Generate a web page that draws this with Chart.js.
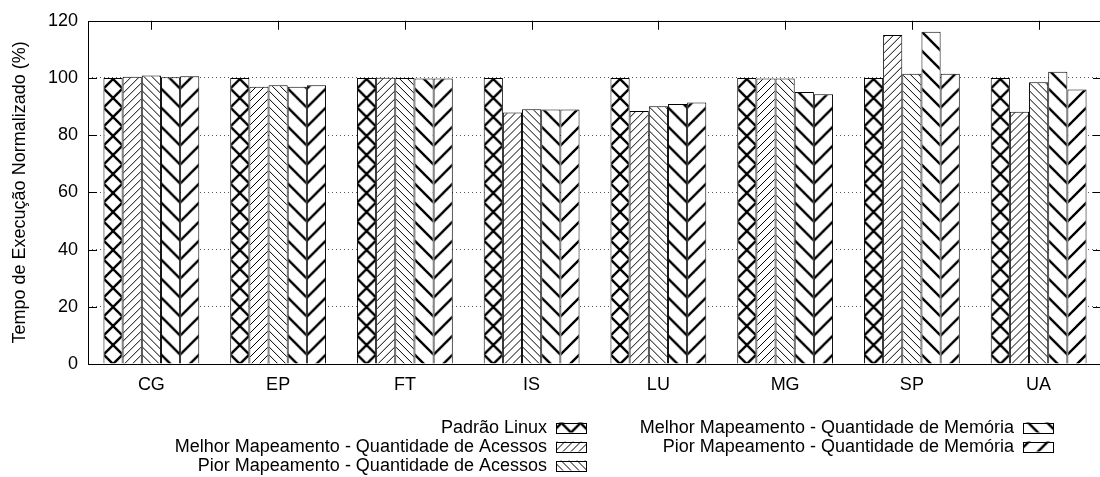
<!DOCTYPE html>
<html>
<head>
<meta charset="utf-8">
<script src="https://cdn.jsdelivr.net/npm/chart.js@4.4.1/dist/chart.umd.min.js"></script>
<style>
    html, body { margin: 0; padding: 0; background: #fff; overflow: hidden; }
    #wrap { position: relative; width: 1104px; height: 477px; }
</style>
</head>
<body>
<div id="wrap"><canvas id="chart"></canvas></div>
<script>
const categories = ["CG", "EP", "FT", "IS", "LU", "MG", "SP", "UA"];

const padraoLinux   = [100.0, 100.0, 100.0, 100.0, 100.0, 100.0, 100.0, 100.0];
const melhorAcessos = [100.4,  96.9, 100.1,  87.9,  88.5,  99.8, 115.0,  88.2];
const piorAcessos   = [100.9,  97.5, 100.0,  89.1,  90.1,  99.8, 101.5,  98.5];
const melhorMemoria = [100.3,  96.9,  99.8,  89.0,  90.9,  95.1, 116.2, 102.2];
const piorMemoria   = [100.6,  97.5,  99.8,  89.0,  91.4,  94.3, 101.5,  96.0];

const seriesNames = [
    "Padrão Linux",
    "Melhor Mapeamento - Quantidade de Acessos",
    "Pior Mapeamento - Quantidade de Acessos",
    "Melhor Mapeamento - Quantidade de Memória",
    "Pior Mapeamento - Quantidade de Memória"
];
const series = [padraoLinux, melhorAcessos, piorAcessos, melhorMemoria, piorMemoria];

const yTicks = [0, 20, 40, 60, 80, 100, 120];
const yTitle = "Tempo de Execução Normalizado (%)";

const FONT = '"Liberation Sans", Arial, Helvetica, sans-serif';
const CAT_PCT = 0.756;

// hatch tile, white background, lines at 45 degrees
function makeTile(size, width, dirs) {
    const c = document.createElement("canvas");
    c.width = size;
    c.height = size;
    const g = c.getContext("2d");
    g.fillStyle = "#fff";
    g.fillRect(0, 0, size, size);
    g.strokeStyle = "#000";
    g.lineWidth = width;
    g.beginPath();
    for (let k = -1; k <= 1; k++) {
        if (dirs.includes("down")) {
            g.moveTo(k * size - 3, -3);
            g.lineTo(k * size + size + 3, size + 3);
        }
        if (dirs.includes("up")) {
            g.moveTo(k * size - 3, size + 3);
            g.lineTo(k * size + size + 3, -3);
        }
    }
    g.stroke();
    return c;
}

const tiles = [
    makeTile(19, 2.4, ["down", "up"]),
    makeTile(8, 1, ["up"]),
    makeTile(8, 1, ["down"]),
    makeTile(19, 2.4, ["down"]),
    makeTile(19, 2.4, ["up"])
];

function patternAt(ctx, tile, x, y) {
    const p = ctx.createPattern(tile, "repeat");
    p.setTransform(new DOMMatrix([1, 0, 0, 1, x, y]));
    return p;
}

// pattern anchored on each bar, like gnuplot does
function barFill(context) {
    const chart = context.chart;
    const xs = chart.scales.x;
    const ys = chart.scales.y;
    if (context.type !== "data" || !xs || !ys || !xs.width) return "#fff";
    const catW = xs.width / categories.length;
    const groupW = catW * CAT_PCT;
    const barW = groupW / series.length;
    const cx = xs.getPixelForValue(context.dataIndex) - groupW / 2 + barW * (context.datasetIndex + 0.5);
    return patternAt(chart.ctx, tiles[context.datasetIndex], cx, ys.getPixelForValue(0));
}

const framePlugin = {
    id: "frame",
    afterDatasetsDraw(chart) {
        const { ctx, chartArea: a, scales: { x, y } } = chart;
        ctx.save();
        ctx.strokeStyle = "#000";
        ctx.lineWidth = 1;
        ctx.beginPath();
        yTicks.slice(1, -1).forEach(v => {
            const py = Math.round(y.getPixelForValue(v)) + 0.5;
            ctx.moveTo(a.left, py);
            ctx.lineTo(a.left + 9, py);
            ctx.moveTo(a.right, py);
            ctx.lineTo(a.right - 9, py);
        });
        categories.forEach((c, i) => {
            const px = Math.round(x.getPixelForValue(i)) + 0.5;
            ctx.moveTo(px, a.top);
            ctx.lineTo(px, a.top + 9);
        });
        ctx.stroke();
        ctx.strokeRect(Math.round(a.left) + 0.5, Math.round(a.top) + 0.5,
            Math.round(a.right - a.left), Math.round(a.bottom - a.top));
        ctx.restore();
    }
};

const legendPlugin = {
    id: "keyBox",
    afterDraw(chart) {
        const ctx = chart.ctx;
        const cols = [{ right: 547, items: [0, 1, 2] }, { right: 1014, items: [3, 4] }];
        ctx.save();
        ctx.font = "18px " + FONT;
        ctx.fillStyle = "#000";
        ctx.textAlign = "right";
        ctx.textBaseline = "middle";
        cols.forEach(col => {
            col.items.forEach((idx, row) => {
                const cy = 427.5 + row * 19;
                ctx.fillText(seriesNames[idx], col.right, cy + 1);
                const sx = col.right + 9;
                ctx.fillStyle = patternAt(ctx, tiles[idx], sx + 15, cy + 5);
                ctx.fillRect(sx, cy - 5, 30, 10);
                ctx.strokeStyle = "#000";
                ctx.lineWidth = 1;
                ctx.strokeRect(sx + 0.5, Math.round(cy - 5) + 0.5, 30, 10);
                ctx.fillStyle = "#000";
            });
        });
        ctx.restore();
    }
};

Chart.defaults.font.family = FONT;
Chart.defaults.font.size = 18;
Chart.defaults.color = "#000";

new Chart(document.getElementById("chart"), {
    type: "bar",
    data: {
        labels: categories,
        datasets: series.map((values, i) => ({
            label: seriesNames[i],
            data: values,
            backgroundColor: barFill,
            borderColor: "#000",
            borderWidth: 1,
            categoryPercentage: CAT_PCT,
            barPercentage: 1.0
        }))
    },
    options: {
        responsive: true,
        maintainAspectRatio: false,
        animation: false,
        events: [],
        layout: { padding: { top: 17, right: 2, bottom: 77, left: 0 } },
        plugins: {
            legend: { display: false },
            tooltip: { enabled: false }
        },
        scales: {
            x: {
                grid: { display: false },
                border: { display: false },
                ticks: { padding: 2, maxRotation: 0, autoSkip: false },
                afterFit: scale => { scale.height = 36; }
            },
            y: {
                min: 0,
                max: 120,
                ticks: { stepSize: 20, padding: 10 },
                grid: {
                    drawTicks: false,
                    color: c => (c.tick.value === 0 || c.tick.value === 120) ? "rgba(0,0,0,0)" : "#555"
                },
                border: { display: false, dash: [1, 3] },
                title: {
                    display: true,
                    text: yTitle,
                    padding: { top: 9, bottom: 0 }
                },
                afterFit: scale => { scale.width = 88; }
            }
        }
    },
    plugins: [framePlugin, legendPlugin]
});
</script>
</body>
</html>
